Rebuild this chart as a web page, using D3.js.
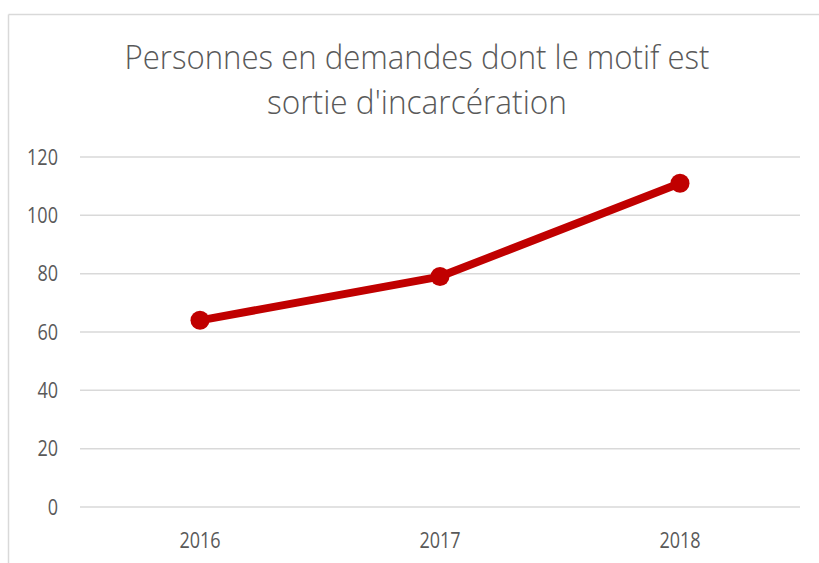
<!DOCTYPE html>
<html>
<head>
<meta charset="utf-8">
<style>
  body { margin: 0; background: #fff; }
  text { font-family: "Open Sans", "Noto Sans", sans-serif; fill: #595959; }
</style>
</head>
<body>
<svg width="819" height="563"></svg>
<script src="https://d3js.org/d3.v7.min.js"></script>
<script>

var years = ["2016", "2017", "2018"];
var values = [64, 79, 111];
var yTicks = [0, 20, 40, 60, 80, 100, 120];
var titleLines = ["Personnes en demandes dont le motif est", "sortie d'incarcération"];

var svg = d3.select("svg"),
    width = +svg.attr("width"),
    height = +svg.attr("height");

var plotLeft = 80, plotRight = 800, plotTop = 157, plotBottom = 507;

// chart frame (only left and top edges are visible)
svg.append("line")
    .attr("x1", 8.5).attr("x2", width).attr("y1", 14.5).attr("y2", 14.5)
    .style("stroke", "#d9d9d9").style("stroke-width", 1.5);
svg.append("line")
    .attr("x1", 8.5).attr("x2", 8.5).attr("y1", 14.5).attr("y2", height)
    .style("stroke", "#d9d9d9").style("stroke-width", 1.5);

// title
var titleWidths = [585, 300];
svg.selectAll(".title")
    .data(titleLines)
    .enter().append("text")
    .attr("class", "title")
    .attr("x", 417)
    .attr("y", function(d, i){ return 69 + i * 45; })
    .attr("text-anchor", "middle")
    .attr("textLength", function(d, i){ return titleWidths[i]; })
    .attr("lengthAdjust", "spacingAndGlyphs")
    .style("font-size", "33px")
    .style("font-weight", 300)
    .text(function(d){ return d; });

var x = d3.scaleBand().domain(years).range([plotLeft, plotRight]);
var y = d3.scaleLinear().domain([0, 120]).range([plotBottom, plotTop]);

// gridlines
svg.selectAll(".grid")
    .data(yTicks)
    .enter().append("line")
    .attr("x1", plotLeft).attr("x2", plotRight)
    .attr("y1", function(d){ return y(d); })
    .attr("y2", function(d){ return y(d); })
    .style("stroke", "#d9d9d9").style("stroke-width", 1.5);

// y labels
svg.selectAll(".ylab")
    .data(yTicks)
    .enter().append("text")
    .attr("transform", function(d){ return "translate(58," + (y(d) + 7.5) + ") scale(0.82,1)"; })
    .attr("text-anchor", "end")
    .style("font-size", "22px")
    .text(function(d){ return d; });

// x labels
svg.selectAll(".xlab")
    .data(years)
    .enter().append("text")
    .attr("transform", function(d){ return "translate(" + (x(d) + x.bandwidth() / 2) + ",548) scale(0.82,1)"; })
    .attr("text-anchor", "middle")
    .style("font-size", "22px")
    .text(function(d){ return d; });

var line = d3.line()
    .x(function(d, i){ return x(years[i]) + x.bandwidth() / 2; })
    .y(function(d){ return y(d); });

svg.append("path")
    .datum(values)
    .attr("d", line)
    .style("fill", "none")
    .style("stroke", "#c00000")
    .style("stroke-width", 8)
    .style("stroke-linejoin", "round");

svg.selectAll(".dot")
    .data(values)
    .enter().append("circle")
    .attr("cx", function(d, i){ return x(years[i]) + x.bandwidth() / 2; })
    .attr("cy", function(d){ return y(d); })
    .attr("r", 9.5)
    .style("fill", "#c00000");
</script>
</body>
</html>
